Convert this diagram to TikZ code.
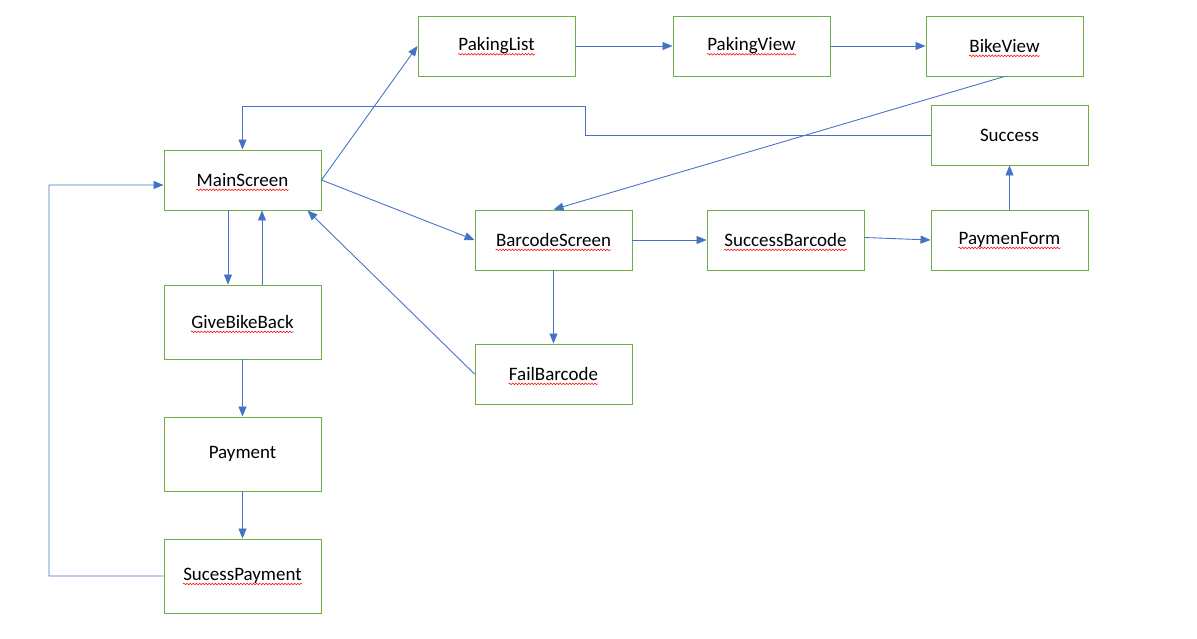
\documentclass[tikz,border=0pt]{standalone}
\usepackage{fontspec}
\setmainfont{Carlito}
\usepackage{tikz}
\usetikzlibrary{arrows.meta,decorations.pathmorphing}
\definecolor{boxgreen}{RGB}{112,173,71}
\definecolor{flowblue}{RGB}{68,114,196}

\begin{document}
\begin{tikzpicture}
      \tikzstyle{point} = [coordinate]
      \tikzstyle{box} = [rectangle, draw=boxgreen, line width=0.55pt, minimum width=3.14cm, minimum height=1.2cm]
      \tikzstyle{tallbox} = [box, minimum height=1.48cm]
      \tikzstyle{word} = [inner sep=0pt, font=\fontsize{10.8}{13}\selectfont]
      \tikzstyle{spell} = [draw=red, line width=0.3pt, decorate, decoration={snake, amplitude=0.45pt, segment length=1.8pt}]
      \tikzstyle{flow} = [draw=flowblue, line width=0.5pt, -{Triangle[length=2mm,width=1.6mm]}]
      \useasboundingbox (0,0) rectangle (23.94,-12.76);
      % top row
      \node (plist) [box] at (9.93,-0.92) {};
      \node (pview) [box] at (15.03,-0.92) {};
      \node (bview) [box] at (20.09,-0.92) {};
      \node (succ) [box] at (20.19,-2.7) {};
      % middle row
      \node (main) [box] at (4.85,-3.6) {};
      \node (bscreen) [box] at (11.07,-4.8) {};
      \node (sbarcode) [box] at (15.71,-4.8) {};
      \node (pform) [box] at (20.19,-4.8) {};
      \node (fbarcode) [box] at (11.07,-7.48) {};
      % left column
      \node (giveback) [tallbox] at (4.85,-6.44) {};
      \node (payment) [tallbox] at (4.85,-9.08) {};
      \node (spayment) [tallbox] at (4.85,-11.52) {};
      % texts
      \node (plist-t) [word] at (plist) {PakingList};
      \node (pview-t) [word] at (pview) {PakingView};
      \node (bview-t) [word] at (bview) {BikeView};
      \node (succ-t) [word] at (succ) {Success};
      \node (main-t) [word] at (main) {MainScreen};
      \node (bscreen-t) [word] at (bscreen) {BarcodeScreen};
      \node (sbarcode-t) [word] at (sbarcode) {SuccessBarcode};
      \node (pform-t) [word] at (pform) {PaymenForm};
      \node (fbarcode-t) [word] at (fbarcode) {FailBarcode};
      \node (giveback-t) [word] at (giveback) {GiveBikeBack};
      \node (payment-t) [word] at (payment) {Payment};
      \node (spayment-t) [word] at (spayment) {SucessPayment};
      \foreach \w in {plist,pview,bview,main,bscreen,sbarcode,pform,fbarcode,giveback,spayment}
        \draw [spell] ([yshift=-1.9pt]\w-t.base west)--([yshift=-1.9pt]\w-t.base east);
      % bends
      \node (p1) [point] at (11.7,-2.12) {};
      \node (p2) [point] at (0.98,-3.7) {};
      \draw [flow] (main.east)--(plist.west);
      \draw [flow] (plist)--(pview);
      \draw [flow] (pview)--(bview);
      \draw [flow] (bview.south)--(bscreen.north);
      \draw [flow] (main.east)--(bscreen.west);
      \draw [flow] (bscreen)--(sbarcode);
      \draw [flow] ([yshift=0.05cm]sbarcode.east)--(pform.west);
      \draw [flow] (pform)--(succ);
      \draw [flow] (succ.west)-|(p1)-|(main.north);
      \draw [flow] (bscreen)--(fbarcode);
      \draw [flow] (fbarcode.west)--([xshift=-0.28cm]main.south east);
      \draw [flow] ([xshift=-0.29cm]main.south)--([xshift=-0.29cm]giveback.north);
      \draw [flow] ([xshift=0.39cm]giveback.north)--([xshift=0.39cm]main.south);
      \draw [flow] (giveback)--(payment);
      \draw [flow] (payment)--(spayment);
      \draw [flow] (spayment.west)-|(p2)--([yshift=-0.1cm]main.west);
    \end{tikzpicture}
\end{document}
